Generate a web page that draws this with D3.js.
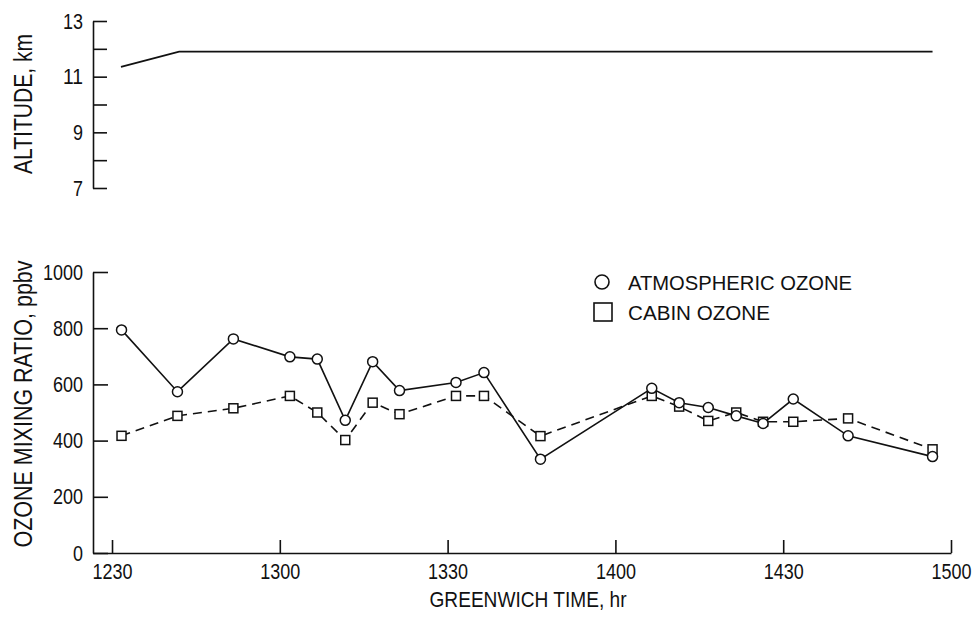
<!DOCTYPE html>
<html lang="en">
<head>
    <meta charset="utf-8">
    <title>Ozone</title>
    <script type="text/javascript" src="https://d3js.org/d3.v7.min.js"></script>
    <style>
        body{
            margin: 0;
            background: white;
        }
        svg text{
            font-family: "Liberation Sans", Arial, sans-serif;
            fill: #111;
        }
        .axis path, .axis line{
            stroke: #111;
            stroke-width: 1.6px;
        }
        .axis text{
            font-size: 22px;
            font-family: "Liberation Sans", Arial, sans-serif;
        }
    </style>
</head>
<body>
    <div id="chart"></div>
    <script type="text/javascript">
        const width = 978;
        const height = 618;

        // flight altitude (time as hhmm, km)
        const altTimes = [1231.6, 1242, 1456.7];
        const altValues = [11.35, 11.9, 11.9];

        // sample times (hhmm, decimal minutes)
        const times = [1231.7, 1241.7, 1251.7, 1301.8, 1306.7, 1311.7, 1316.6, 1321.4, 1331.5, 1336.5,
                       1346.6, 1406.5, 1411.4, 1416.6, 1421.6, 1426.4, 1431.8, 1441.6, 1456.7];
        const atmospheric = [794, 574, 762, 698, 690, 472, 681, 578, 607, 642,
                             334, 586, 535, 518, 488, 461, 548, 417, 343];
        const cabin = [417, 488, 515, 559, 500, 402, 535, 494, 559, 559,
                       416, 559, 521, 470, 500, 467, 467, 479, 369];

        const timeTicks = [1230, 1300, 1330, 1400, 1430, 1500];
        const altTicks = [7, 8, 9, 10, 11, 12, 13];
        const altLabels = [7, 9, 11, 13];
        const ozoneTicks = [0, 200, 400, 600, 800, 1000];

        const toMin = v => Math.floor(v / 100) * 60 + (v % 100);

        // the original lettering is condensed; squeeze text to the measured widths
        function squeeze(sel, w) {
            sel.attr("textLength", w).attr("lengthAdjust", "spacingAndGlyphs");
        }
        function squeezeTicks(g) {
            g.selectAll(".tick text").each(function() {
                const s = d3.select(this);
                const n = s.text().length;
                if (n > 0) squeeze(s, n * 10);
            });
        }

        const svg = d3.select("#chart")
            .append("svg")
            .attr("width", width)
            .attr("height", height);

        // x scale shared by both panels; axis corner sits a bit left of 1230
        const x = d3.scaleLinear()
            .domain([746.6, 900])
            .range([93, 951]);

        const yAlt = d3.scaleLinear().domain([7, 13]).range([188, 21]);
        const yOz = d3.scaleLinear().domain([0, 1000]).range([553, 272]);

        // ---- top panel: altitude
        svg.append("g")
            .attr("class", "axis")
            .attr("transform", "translate(93,0)")
            .call(d3.axisLeft(yAlt)
                .tickValues(altTicks)
                .tickSizeInner(-14)
                .tickSizeOuter(0)
                .tickPadding(10)
                .tickFormat(d => altLabels.includes(d) ? String(d) : ""))
            .call(squeezeTicks);

        const altData = altTimes.map((t, i) => ({t: toMin(t), v: altValues[i]}));
        svg.append("path")
            .datum(altData)
            .attr("fill", "none")
            .attr("stroke", "#111")
            .attr("stroke-width", 1.8)
            .attr("d", d3.line().x(d => x(d.t)).y(d => yAlt(d.v)));

        svg.append("text")
            .attr("transform", "translate(32,104) rotate(-90)")
            .attr("text-anchor", "middle")
            .style("font-size", "25px")
            .text("ALTITUDE, km")
            .call(squeeze, 140);

        // ---- bottom panel: ozone
        svg.append("g")
            .attr("class", "axis")
            .attr("transform", "translate(93,0)")
            .call(d3.axisLeft(yOz)
                .tickValues(ozoneTicks)
                .tickSizeInner(-15)
                .tickSizeOuter(0)
                .tickPadding(10)
                .tickFormat(d => String(d)))
            .call(squeezeTicks);

        svg.append("g")
            .attr("class", "axis")
            .attr("transform", "translate(0,553)")
            .call(d3.axisBottom(x)
                .tickValues(timeTicks.map(toMin))
                .tickSizeInner(-13)
                .tickSizeOuter(0)
                .tickPadding(10)
                .tickFormat((d, i) => String(timeTicks[i])))
            .call(squeezeTicks);

        svg.append("text")
            .attr("x", 528)
            .attr("y", 607)
            .attr("text-anchor", "middle")
            .style("font-size", "22px")
            .text("GREENWICH TIME, hr")
            .call(squeeze, 197);

        svg.append("text")
            .attr("transform", "translate(32,404) rotate(-90)")
            .attr("text-anchor", "middle")
            .style("font-size", "25px")
            .text("OZONE MIXING RATIO, ppbv")
            .call(squeeze, 287);

        const atmData = times.map((t, i) => ({t: toMin(t), v: atmospheric[i]}));
        const cabData = times.map((t, i) => ({t: toMin(t), v: cabin[i]}));
        const line = d3.line().x(d => x(d.t)).y(d => yOz(d.v));

        svg.append("path")
            .datum(cabData)
            .attr("fill", "none")
            .attr("stroke", "#111")
            .attr("stroke-width", 1.6)
            .attr("stroke-dasharray", "9,6")
            .attr("d", line);

        svg.append("path")
            .datum(atmData)
            .attr("fill", "none")
            .attr("stroke", "#111")
            .attr("stroke-width", 1.6)
            .attr("d", line);

        const sq = 9;
        svg.append("g")
            .selectAll("rect")
            .data(cabData)
            .enter()
            .append("rect")
                .attr("x", d => x(d.t) - sq / 2)
                .attr("y", d => yOz(d.v) - sq / 2)
                .attr("width", sq)
                .attr("height", sq)
                .attr("fill", "white")
                .attr("stroke", "#111")
                .attr("stroke-width", 1.5);

        svg.append("g")
            .selectAll("circle")
            .data(atmData)
            .enter()
            .append("circle")
                .attr("cx", d => x(d.t))
                .attr("cy", d => yOz(d.v))
                .attr("r", 5)
                .attr("fill", "white")
                .attr("stroke", "#111")
                .attr("stroke-width", 1.5);

        // legend
        const legend = svg.append("g");
        legend.append("circle")
            .attr("cx", 602).attr("cy", 282).attr("r", 7)
            .attr("fill", "white").attr("stroke", "#111").attr("stroke-width", 1.6);
        legend.append("rect")
            .attr("x", 594).attr("y", 303).attr("width", 18).attr("height", 18)
            .attr("fill", "white").attr("stroke", "#111").attr("stroke-width", 1.6);
        legend.append("text")
            .attr("x", 628).attr("y", 290)
            .style("font-size", "20px")
            .text("ATMOSPHERIC OZONE")
            .call(squeeze, 224);
        legend.append("text")
            .attr("x", 628).attr("y", 320)
            .style("font-size", "20px")
            .text("CABIN OZONE")
            .call(squeeze, 142);
    </script>
</body>
</html>
